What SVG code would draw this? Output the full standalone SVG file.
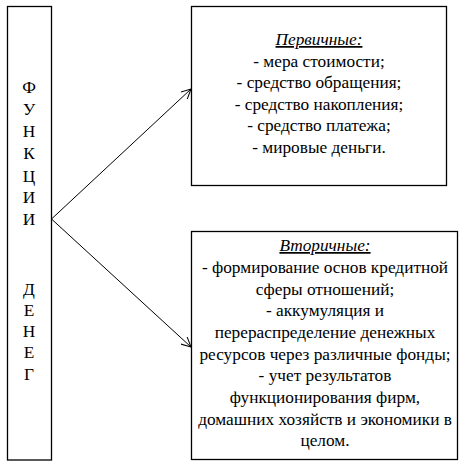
<svg xmlns="http://www.w3.org/2000/svg" width="470" height="465" viewBox="0 0 470 465">
<style>
.box{fill:#fff;stroke:#000;stroke-width:1.3}
text{font-size:17.3px;fill:#000;text-anchor:middle}
.h{font-style:italic;text-decoration:underline}
.conn{stroke:#000;stroke-width:1;fill:none}
</style>
<defs>
<marker id="arr" viewBox="0 0 10 10" refX="10" refY="5" markerWidth="10" markerHeight="10" markerUnits="userSpaceOnUse" orient="auto">
<path d="M0,0 L10,5 L0,10" fill="none" stroke="#000" stroke-width="1"/>
</marker>
</defs>
<g id="left" font-family="Liberation Serif, Times New Roman, serif">
<rect class="box" x="7.5" y="6.5" width="44" height="453.5"/>
<text x="29" y="93">Ф</text>
<text x="29" y="115">У</text>
<text x="29" y="137">Н</text>
<text x="29" y="159">К</text>
<text x="29" y="181.5">Ц</text>
<text x="29" y="203">И</text>
<text x="29" y="225">И</text>
<text x="29" y="295">Д</text>
<text x="29" y="315.5">Е</text>
<text x="29" y="337">Н</text>
<text x="29" y="358">Е</text>
<text x="29" y="380">Г</text>
</g>
<g id="primary" font-family="Liberation Serif, Times New Roman, serif">
<rect class="box" x="191.5" y="6.5" width="255" height="179"/>
<text class="h" x="319" y="45">Первичные:</text>
<text x="319" y="66.5">- мера стоимости;</text>
<text x="319" y="88">- средство обращения;</text>
<text x="319" y="109.5">- средство накопления;</text>
<text x="319" y="131">- средство платежа;</text>
<text x="319" y="152.5">- мировые деньги.</text>
</g>
<g id="secondary" font-family="Liberation Serif, Times New Roman, serif">
<rect class="box" x="191.5" y="231.5" width="266" height="228"/>
<text class="h" x="325" y="251">Вторичные:</text>
<text x="325" y="273">- формирование основ кредитной</text>
<text x="325" y="294.5">сферы отношений;</text>
<text x="325" y="316">- аккумуляция и</text>
<text x="325" y="338">перераспределение денежных</text>
<text x="325" y="359.5">ресурсов через различные фонды;</text>
<text x="325" y="381">- учет результатов</text>
<text x="325" y="403">функционирования фирм,</text>
<text x="325" y="424.5">домашних хозяйств и экономики в</text>
<text x="325" y="446">целом.</text>
</g>
<g id="connectors">
<line class="conn" x1="51.5" y1="219" x2="191" y2="89" marker-end="url(#arr)"/>
<line class="conn" x1="51.5" y1="219" x2="191" y2="347" marker-end="url(#arr)"/>
</g>
</svg>
